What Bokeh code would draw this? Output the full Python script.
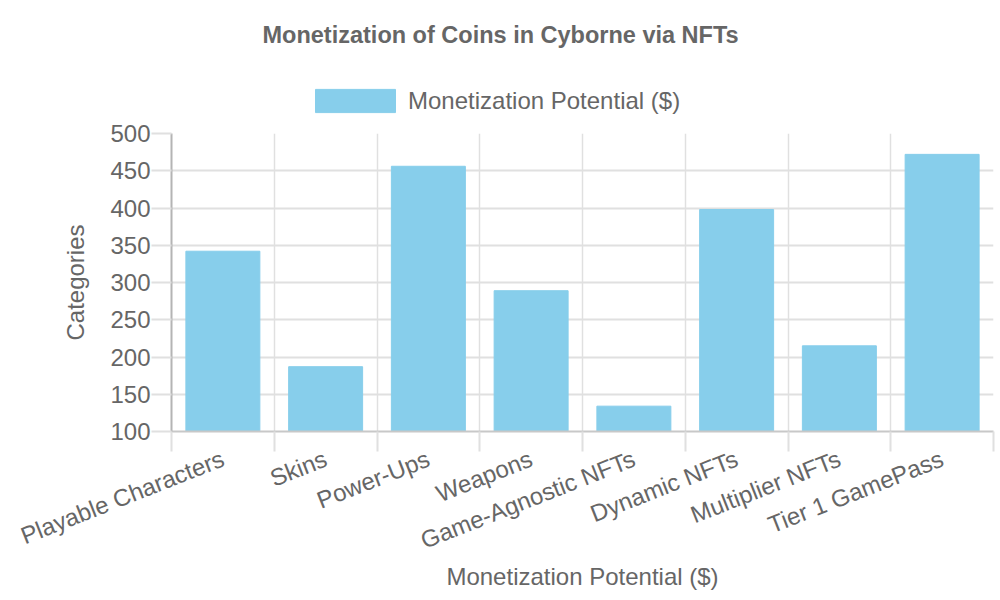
import numpy as np
from bokeh.plotting import figure
from bokeh.layouts import column
from bokeh.models import Range1d, FixedTicker, Legend, LegendItem, ColumnDataSource
from bokeh.embed import file_html
from bokeh.resources import INLINE

categories = ["Playable Characters", "Skins", "Power-Ups", "Weapons",
              "Game-Agnostic NFTs", "Dynamic NFTs", "Multiplier NFTs", "Tier 1 GamePass"]
values = [342, 187, 456, 289, 134, 398, 215, 472]
y_ticks = [100, 150, 200, 250, 300, 350, 400, 450, 500]
series_name = "Monetization Potential ($)"
title_text = "Monetization of Coins in Cyborne via NFTs"
x_label = "Monetization Potential ($)"
y_label = "Categories"

FONT = "Liberation Sans"
GRAY = "#666666"
BAR = "#87CEEB"

centers = np.arange(len(categories)) + 0.5
bounds = list(np.arange(len(categories) + 1).astype(float))
src = ColumnDataSource(dict(x=list(centers), top=values))

# ---- header: title + legend ----
TOP_H = 121
head = figure(width=1000, height=TOP_H, output_backend="svg", toolbar_location=None,
              x_range=Range1d(0, len(categories)), y_range=Range1d(100, 500),
              min_border_left=171, min_border_right=7, min_border_top=47, min_border_bottom=0)
head.axis.visible = False
head.grid.visible = False
head.outline_line_color = None
hr = head.vbar(x="x", top="top", bottom=100, width=0.72, source=src,
               fill_color=BAR, line_color=BAR, visible=False)
head.title.text = title_text
head.title.align = "left"
head.title.offset = 91
head.title.text_font = FONT
head.title.text_font_size = "23.5px"
head.title.text_font_style = "bold"
head.title.text_color = GRAY
head.title.standoff = 0

legend = Legend(items=[LegendItem(label=series_name, renderers=[hr])],
                orientation="horizontal", location=(134, 6),
                glyph_width=100, glyph_height=29, label_height=29,
                label_standoff=3, label_text_font=FONT, label_text_font_size="24px",
                label_text_color=GRAY, border_line_alpha=0, background_fill_alpha=0,
                inactive_fill_alpha=0, padding=0, margin=0, spacing=0)
head.add_layout(legend, "center")

# ---- main chart ----
p = figure(width=1000, height=600 - TOP_H, output_backend="svg", toolbar_location=None,
           x_range=Range1d(0, len(categories)), y_range=Range1d(100, 500),
           min_border_left=171, min_border_right=7, min_border_top=133 - TOP_H,
           min_border_bottom=169)
p.vbar(x="x", top="top", bottom=100, width=0.72, source=src,
       fill_color=BAR, line_color=BAR)
p.outline_line_color = None

# x axis
p.xaxis.ticker = FixedTicker(ticks=list(centers), minor_ticks=bounds)
p.xaxis.major_label_overrides = {float(c): n for c, n in zip(centers, categories)}
p.xaxis.major_label_orientation = 0.375
p.xaxis.major_tick_out = 0
p.xaxis.major_tick_in = 0
p.xaxis.minor_tick_out = 20
p.xaxis.minor_tick_in = 0
p.xaxis.minor_tick_line_color = "#e0e0e0"
p.xaxis.minor_tick_line_width = 2
p.xaxis.axis_line_color = "#c8c8c8"
p.xaxis.axis_line_width = 2
p.xaxis.major_label_text_font = FONT
p.xaxis.major_label_text_font_size = "24px"
p.xaxis.major_label_text_color = GRAY
p.xaxis.major_label_standoff = 6
p.xaxis.axis_label = x_label
p.xaxis.axis_label_text_font = FONT
p.xaxis.axis_label_text_font_size = "24px"
p.xaxis.axis_label_text_font_style = "normal"
p.xaxis.axis_label_text_color = GRAY
p.xaxis.axis_label_standoff = -6

# y axis
p.yaxis.ticker = FixedTicker(ticks=y_ticks)
p.yaxis.major_tick_out = 20
p.yaxis.major_tick_in = 0
p.yaxis.major_tick_line_color = "#e0e0e0"
p.yaxis.major_tick_line_width = 2
p.yaxis.minor_tick_line_color = None
p.yaxis.axis_line_color = "#b4b4b4"
p.yaxis.axis_line_width = 2
p.yaxis.major_label_text_font = FONT
p.yaxis.major_label_text_font_size = "24px"
p.yaxis.major_label_text_color = GRAY
p.yaxis.major_label_standoff = 1
p.yaxis.axis_label = y_label
p.yaxis.axis_label_text_font = FONT
p.yaxis.axis_label_text_font_size = "24px"
p.yaxis.axis_label_text_font_style = "normal"
p.yaxis.axis_label_text_color = GRAY
p.yaxis.axis_label_standoff = 18

p.xgrid.ticker = FixedTicker(ticks=bounds)
p.xgrid.grid_line_color = "#e0e0e0"
p.ygrid.grid_line_color = "#e0e0e0"
p.ygrid.grid_line_width = 2
p.xgrid.grid_line_width = 1.5

layout = column(head, p, spacing=0)
open("out.html", "w").write(file_html(layout, INLINE))
